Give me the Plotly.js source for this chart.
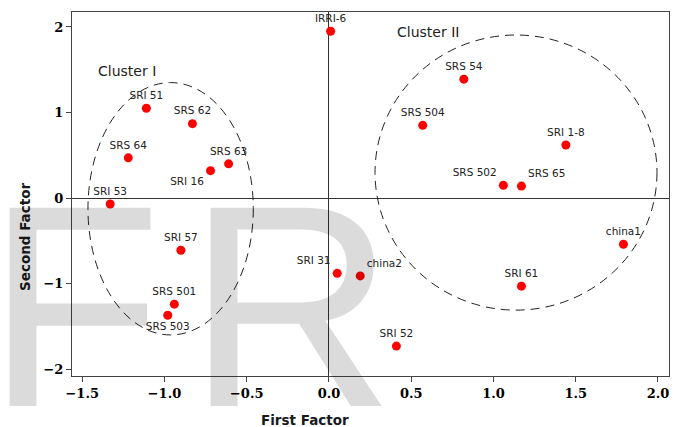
<!DOCTYPE html>
<html>
<head>
<meta charset="utf-8">
<script src="https://cdn.plot.ly/plotly-3.0.1.min.js"></script>
<style>html,body{margin:0;padding:0;background:#fff;}#chart{width:676px;height:427px;}</style>
</head>
<body>
<div id="chart"></div>
<script>
// ---- data ----
const genotypes = ["IRRI-6","SRI 51","SRS 62","SRS 64","SRS 63","SRI 16","SRI 53","SRI 57","SRS 501","SRS 503",
                   "SRI 31","china2","SRI 52","SRI 61","china1","SRS 54","SRS 504","SRI 1-8","SRS 502","SRS 65"];
const firstFactor  = [0.01,-1.11,-0.83,-1.22,-0.61,-0.72,-1.33,-0.90,-0.94,-0.98,
                      0.05, 0.19, 0.41, 1.17, 1.79, 0.82, 0.57, 1.44, 1.06, 1.17];
const secondFactor = [1.95, 1.05, 0.87, 0.47, 0.40, 0.32,-0.07,-0.61,-1.24,-1.37,
                      -0.88,-0.91,-1.73,-1.03,-0.54, 1.39, 0.85, 0.62, 0.15, 0.14];
const xTicks = [-1.5,-1.0,-0.5,0.0,0.5,1.0,1.5,2.0];
const yTicks = [-2,-1,0,1,2];
const clusterNames = ["Cluster I","Cluster II"];

// ---- styling ----
const labelPos = {"SRI 16":"bottom left","SRS 503":"bottom center","SRI 31":"top left",
                  "china2":"top right","SRS 502":"top left","SRS 65":"top right"};
const textPositions = genotypes.map(g => labelPos[g] || "top center");

const trace = {
  x: firstFactor, y: secondFactor, text: genotypes,
  type: "scatter", mode: "markers+text",
  textposition: textPositions,
  textfont: {family: "DejaVu Sans", size: 10.5, color: "#222"},
  marker: {color: "#ff0000", size: 9},
  cliponaxis: false, hoverinfo: "text", showlegend: false
};

const tickFont = {family: "DejaVu Serif", size: 13, color: "#000", weight: 700};
const dashed = {color: "#222", width: 1, dash: "9px,6px"};
const layout = {
  width: 676, height: 427,
  margin: {l: 72, r: 7, t: 12, b: 51},
  paper_bgcolor: "#ffffff", plot_bgcolor: "#ffffff",
  showlegend: false,
  xaxis: {
    range: [-1.562, 2.067], tickvals: xTicks, tickformat: ".1f",
    showgrid: false, zeroline: true, zerolinecolor: "#333", zerolinewidth: 1,
    showline: true, mirror: true, linecolor: "#444", linewidth: 1,
    ticks: "outside", ticklen: 5, tickcolor: "#444",
    tickfont: tickFont
  },
  yaxis: {
    range: [-2.08, 2.175], tickvals: yTicks, tickformat: "d",
    showgrid: false, zeroline: true, zerolinecolor: "#333", zerolinewidth: 1,
    showline: true, mirror: true, linecolor: "#444", linewidth: 1,
    ticks: "outside", ticklen: 5, tickcolor: "#444",
    tickfont: tickFont
  },
  shapes: [
    {type: "circle", xref: "x", yref: "y", x0: -1.465, x1: -0.46, y0: -1.60, y1: 1.35, line: dashed},
    {type: "circle", xref: "x", yref: "y", x0: 0.28, x1: 1.994, y0: -1.31, y1: 1.906, line: dashed}
  ],
  annotations: [
    {text: clusterNames[0], xref: "x", yref: "y", x: -1.23, y: 1.49, showarrow: false,
     font: {family: "DejaVu Sans", size: 14, color: "#222"}},
    {text: clusterNames[1], xref: "x", yref: "y", x: 0.60, y: 1.94, showarrow: false,
     font: {family: "DejaVu Sans", size: 14, color: "#222"}},
    {text: "First Factor", xref: "paper", yref: "paper", x: (305-72)/597, y: (376-420)/364,
     showarrow: false, xanchor: "center", yanchor: "middle",
     font: {family: "DejaVu Sans", size: 13.5, color: "#1a1a1a", weight: 700}},
    {text: "Second Factor", xref: "paper", yref: "paper", x: (25-72)/597, y: (376-237)/364,
     showarrow: false, xanchor: "center", yanchor: "middle", textangle: -90,
     font: {family: "DejaVu Sans", size: 13.5, color: "#1a1a1a", weight: 700}},
    {text: "F", xref: "paper", yref: "paper", x: (-16-72)/597, y: (376-469)/364,
     showarrow: false, xanchor: "left", yanchor: "bottom",
     font: {family: "Liberation Sans", size: 288, color: "rgba(0,0,0,0.14)"}},
    {text: "R", xref: "paper", yref: "paper", x: (185-72)/597, y: (376-469)/364,
     showarrow: false, xanchor: "left", yanchor: "bottom",
     font: {family: "Liberation Sans", size: 288, color: "rgba(0,0,0,0.14)"}}
  ]
};

Plotly.newPlot("chart", [trace], layout, {displayModeBar: false, staticPlot: true});
</script>
</body>
</html>
